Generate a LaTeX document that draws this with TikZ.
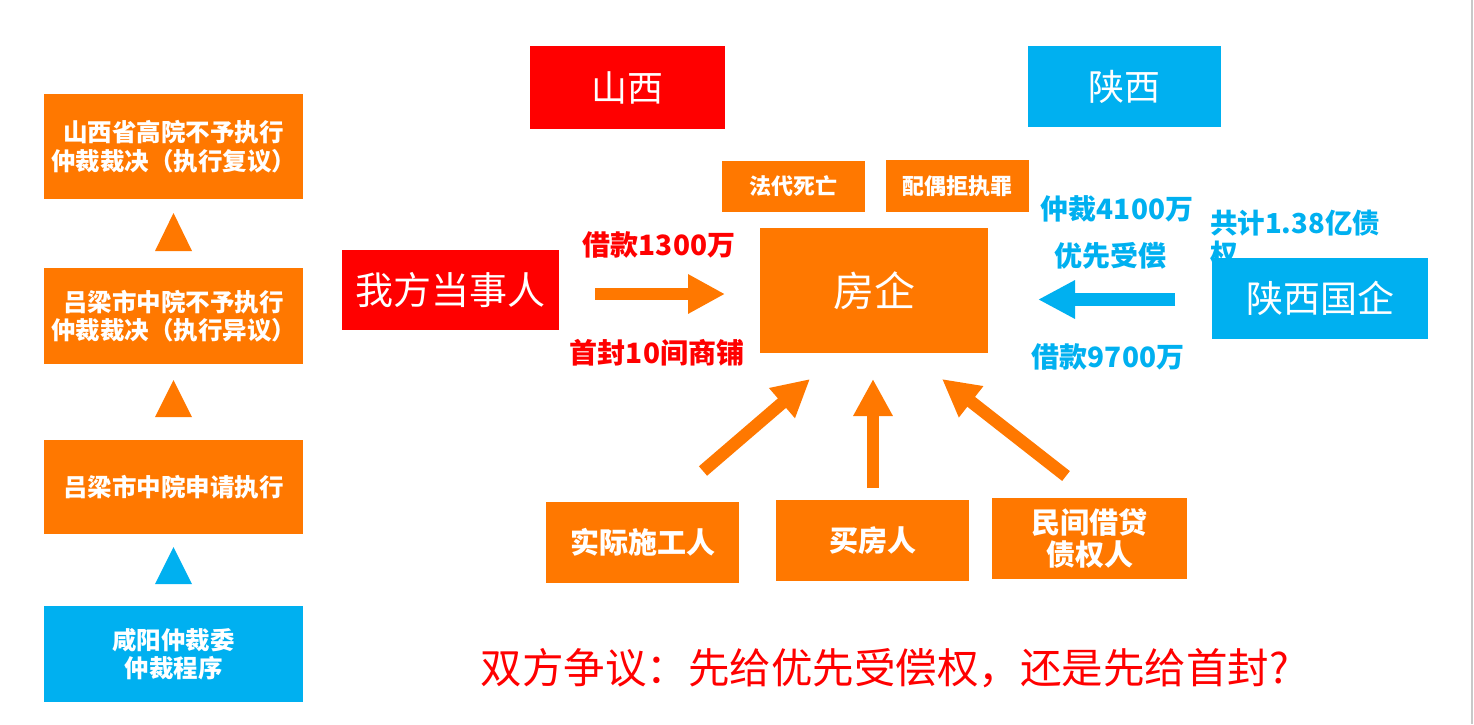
\documentclass[tikz,border=0pt]{standalone}
\usepackage{fontspec}
\setmainfont{Noto Sans CJK SC}
\usetikzlibrary{arrows.meta}
\definecolor{orng}{RGB}{255,120,0}
\definecolor{skyb}{RGB}{0,176,240}
\definecolor{redc}{RGB}{255,0,0}
\tikzset{
  box/.style={draw=none, inner sep=0pt, align=center, text=white},
  obox/.style={box, fill=orng},
  bbox/.style={box, fill=skyb},
  rbox/.style={box, fill=redc},
  lefttxt/.style={font=\bfseries\fontsize{24.5}{28.5}\selectfont},
  redlbl/.style={inner sep=0pt, text=redc, font=\bfseries\fontsize{28}{30}\selectfont},
  bluelbl/.style={inner sep=0pt, text=skyb, font=\bfseries\fontsize{28}{30}\selectfont},
  blockarrow/.style={line width=12.5pt, -{Triangle[length=37pt,width=37pt]}},
}
\begin{document}
\begin{tikzpicture}[x=1pt,y=-1pt]
\useasboundingbox (0,0) rectangle (1474,724);
\fill[white] (0,0) rectangle (1474,724);
\draw[color={rgb,255:red,200;green,200;blue,200}, line width=2pt] (1472,0) -- (1472,724);

% left column
\node[obox, lefttxt, minimum width=259, minimum height=105] (l1) at (173.5,146.5) {山西省高院不予执行\\仲裁裁决（执行复议）};
\node[obox, lefttxt, minimum width=259, minimum height=96] (l2) at (173.5,316) {吕梁市中院不予执行\\仲裁裁决（执行异议）};
\node[obox, lefttxt, minimum width=259, minimum height=94] (l3) at (173.5,487) {吕梁市中院申请执行};
\node[bbox, lefttxt, minimum width=259, minimum height=96] (l4) at (173.5,654) {咸阳仲裁委\\仲裁程序};
\fill[orng] (173.5,213) -- (192,251) -- (155,251) -- cycle;
\fill[orng] (173.5,380) -- (192,417) -- (155,417) -- cycle;
\fill[skyb] (173.5,547) -- (192,584) -- (155,584) -- cycle;

% top province boxes
\node[rbox, font=\fontsize{36}{40}\selectfont, minimum width=195, minimum height=83] (sx) at (627.5,87.5) {山西};
\node[bbox, font=\fontsize{36}{40}\selectfont, minimum width=193, minimum height=81] (shx) at (1124.5,86.5) {陕西};

% small boxes
\node[obox, font=\bfseries\fontsize{22}{26}\selectfont, minimum width=143, minimum height=51] (fd) at (793.5,186) {法代死亡};
\node[obox, font=\bfseries\fontsize{22}{26}\selectfont, minimum width=143, minimum height=52] (po) at (957.5,186) {配偶拒执罪};

% center
\node[obox, font=\fontsize{41}{45}\selectfont, minimum width=228, minimum height=125] (fq) at (874,290.5) {房企};
\node[rbox, font=\fontsize{38}{40}\selectfont, minimum width=217, minimum height=80] (wf) at (450.5,290) {我方当事人};

% right label behind box
\node[inner sep=0pt, text=skyb, font=\bfseries\fontsize{27.5}{31}\selectfont, align=left, anchor=north west] (gj) at (1210,210) {共计1.38亿债\\权};
\node[bbox, font=\fontsize{37}{40}\selectfont, minimum width=216, minimum height=81] (sg) at (1320,298.5) {陕西国企};

% labels
\node[redlbl] (jk1) at (659,245) {借款1300万};
\node[redlbl] (sf) at (657,353) {首封10间商铺};
\node[bluelbl] (zc) at (1117,209) {仲裁4100万};
\node[bluelbl] (yx) at (1110,256) {优先受偿};
\node[bluelbl] (jk2) at (1108,357) {借款9700万};

% bottom boxes
\node[obox, font=\bfseries\fontsize{29}{32}\selectfont, minimum width=193, minimum height=81] (sj) at (642.5,542.5) {实际施工人};
\node[obox, font=\bfseries\fontsize{29}{32}\selectfont, minimum width=193, minimum height=81] (mf) at (872.5,540.5) {买房人};
\node[obox, font=\bfseries\fontsize{29}{32}\selectfont, minimum width=195, minimum height=81] (mj) at (1089.5,538.5) {民间借贷\\债权人};

% bottom question
\node[inner sep=0pt, text=redc, font=\fontsize{41.5}{44}\selectfont] (q) at (885,668) {双方争议：先给优先受偿权，还是先给首封?};

% arrow end points
\coordinate (a1s) at (595,294);
\coordinate (a1e) at (725,294);
\coordinate (a2s) at (1175,299.5);
\coordinate (a2e) at (1038,299.5);
\coordinate (a3s) at (703,471);
\coordinate (a3e) at (810,379);
\coordinate (a4s) at (873,488);
\coordinate (a4e) at (873,379);
\coordinate (a5s) at (1066,476);
\coordinate (a5e) at (942,379);

\draw[blockarrow, orng] (a1s) -- (a1e);
\draw[blockarrow, skyb, line width=13pt, -{Triangle[length=37pt,width=36pt]}] (a2s) -- (a2e);
\draw[blockarrow, orng] (a3s) -- (a3e);
\draw[blockarrow, orng] (a4s) -- (a4e);
\draw[blockarrow, orng] (a5s) -- (a5e);
\end{tikzpicture}
\end{document}
